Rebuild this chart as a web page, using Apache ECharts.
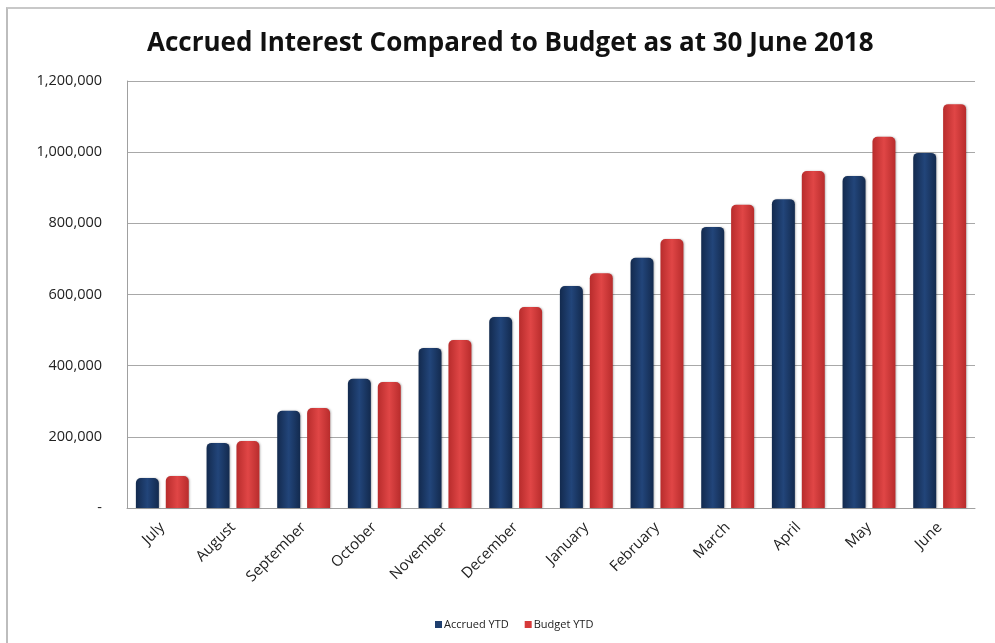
<!DOCTYPE html>
<html>
<head>
<meta charset="utf-8">
<script src="https://cdn.jsdelivr.net/npm/echarts@6/dist/echarts.min.js"></script>
<style>
html,body{margin:0;padding:0;background:#fff;}
#frame{position:absolute;left:6px;top:7px;width:1000px;height:640px;border-left:2px solid #bdbdbd;border-top:2px solid #c8c8c8;}
#chart{position:absolute;left:0;top:0;width:995px;height:643px;}
</style>
</head>
<body>
<div id="frame"></div>
<div id="chart"></div>
<script>
const titleText = 'Accrued Interest Compared to Budget as at 30 June 2018';
const categories = ['July','August','September','October','November','December','January','February','March','April','May','June'];
const accruedYTD = [84000,183000,273000,363000,450000,537000,624000,703000,790000,868000,933000,998000];
const budgetYTD = [90000,188000,281000,354000,472000,565000,660000,756000,852000,947000,1043000,1135000];
const seriesNames = ['Accrued YTD','Budget YTD'];
const yTicks = [0,200000,400000,600000,800000,1000000,1200000];

function grad(edge, mid){
  return new echarts.graphic.LinearGradient(0,0,1,0,[
    {offset:0,color:edge},{offset:0.5,color:mid},{offset:1,color:edge}
  ]);
}
const chart = echarts.init(document.getElementById('chart'), null, {renderer:'canvas'});
chart.setOption({
  animation:false,
  backgroundColor:'transparent',
  title:{text:titleText,left:142,top:26,
    textStyle:{fontFamily:'Open Sans',fontWeight:'bold',fontSize:26,color:'#111'}},
  legend:{data:[
      {name:seriesNames[0],itemStyle:{color:'#1f3f6e'}},
      {name:seriesNames[1],itemStyle:{color:'#d63a3a'}}],
    bottom:8,left:430,itemWidth:7,itemHeight:7,itemGap:16,icon:'rect',
    textStyle:{fontFamily:'Open Sans',fontSize:11,color:'#222',padding:[0,0,0,-3]}},
  grid:{left:127,right:20,top:81,bottom:135,containLabel:false},
  xAxis:{type:'category',data:categories,
    axisLine:{lineStyle:{color:'#a0a0a0',width:1}},
    axisTick:{show:false},
    axisLabel:{rotate:45,fontFamily:'Open Sans',fontSize:15,color:'#222',margin:17,interval:0}},
  yAxis:{type:'value',min:0,max:1200000,interval:200000,
    axisLine:{show:true,lineStyle:{color:'#a0a0a0'}},
    axisTick:{show:false},
    splitLine:{lineStyle:{color:'#a8a8a8',width:1}},
    axisLabel:{fontFamily:'Open Sans',fontSize:14.5,color:'#222',margin:25,
      formatter:v=> v===0 ? '-' : v.toLocaleString('en-US')}},
  series:[
    {name:seriesNames[0],type:'bar',data:accruedYTD,barWidth:23,barGap:'30%',
      itemStyle:{color:grad('#132a4e','#22457a'),borderRadius:[5,5,0,0],
        shadowColor:'rgba(0,0,0,0.25)',shadowBlur:2,shadowOffsetX:1}},
    {name:seriesNames[1],type:'bar',data:budgetYTD,barWidth:23,
      itemStyle:{color:grad('#b82c2c','#e04646'),borderRadius:[5,5,0,0],
        shadowColor:'rgba(0,0,0,0.25)',shadowBlur:2,shadowOffsetX:1}}
  ]
});
</script>
</body>
</html>
